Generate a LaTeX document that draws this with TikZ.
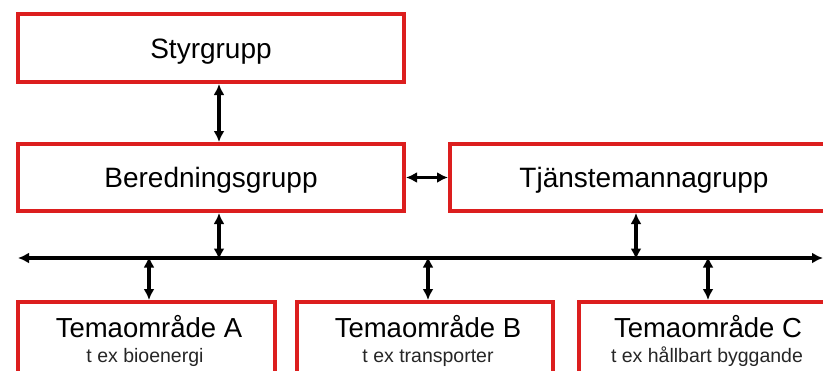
\documentclass[tikz,border=0pt]{standalone}
\usepackage{fontspec}
\setmainfont{Liberation Sans}
\usetikzlibrary{arrows.meta}
\definecolor{boxred}{RGB}{220,30,30}

\begin{document}
\begin{tikzpicture}[x=1pt,y=-1pt,
        group/.style={draw=boxred,line width=4pt,fill=white,inner sep=0pt,text height=20pt,text depth=0pt,font=\fontsize{28}{33}\selectfont},
        tema/.style={draw=boxred,line width=4pt,fill=white,inner sep=0pt},
        title/.style={anchor=base,inner sep=0pt,font=\fontsize{27.5}{33}\selectfont},
        example/.style={anchor=base,inner sep=0pt,text=black!85,font=\fontsize{19.5}{23}\selectfont},
        link/.style={{Latex[length=11pt,width=11pt]}-{Latex[length=11pt,width=11pt]},line width=3.2pt}]
        % Frame of the page
        \fill[white] (0,0) rectangle (823,370);
        \useasboundingbox (0,0) rectangle (823,370);
        \clip (0,0) rectangle (823,370);

        % Top groups
        \node[group,minimum width=386pt,minimum height=68pt] (styr) at (211,48) {Styrgrupp};
        \node[group,minimum width=386pt,minimum height=67pt] (bered) at (211,177.5) {Beredningsgrupp};
        \node[group,minimum width=388pt,minimum height=67pt] (tjanst) at (644,177.5) {Tjänstemannagrupp};

        % Theme boxes, cut off by the page
        \node[tema,minimum width=257pt,minimum height=118pt] (temaA) at (146.5,361) {};
        \node[tema,minimum width=256pt,minimum height=118pt] (temaB) at (425,361) {};
        \node[tema,minimum width=262pt,minimum height=118pt] (temaC) at (710,361) {};

        % Texts of the theme boxes
        \node[title] (titleA) at (149,337) {Temaområde A};
        \node[title] (titleB) at (428,337) {Temaområde B};
        \node[title] (titleC) at (708,337) {Temaområde C};
        \node[example] (exA) at (145,362) {t ex bioenergi};
        \node[example] (exB) at (428,362) {t ex transporter};
        \node[example] (exC) at (707,362) {t ex hållbart byggande};

        % Common line
        \coordinate (busL) at (18,258);
        \coordinate (busR) at (823,258);
        \draw[link] (busL) -- (busR);

        % Links
        \draw[link] ([xshift=8pt]styr.south) -- ([xshift=8pt]bered.north);
        \draw[link] (bered.east) -- (tjanst.west);
        \draw[link] ([xshift=8pt]bered.south) -- ([xshift=8pt,yshift=-1.5pt]bered.south |- busL);
        \draw[link] ([xshift=-8pt]tjanst.south) -- ([xshift=-8pt,yshift=-1.5pt]tjanst.south |- busL);
        \draw[link] ([yshift=1.5pt]titleA |- busL) -- (temaA.north -| titleA);
        \draw[link] ([yshift=1.5pt]titleB |- busL) -- (temaB.north -| titleB);
        \draw[link] ([yshift=1.5pt]titleC |- busL) -- (temaC.north -| titleC);
\end{tikzpicture}
\end{document}
